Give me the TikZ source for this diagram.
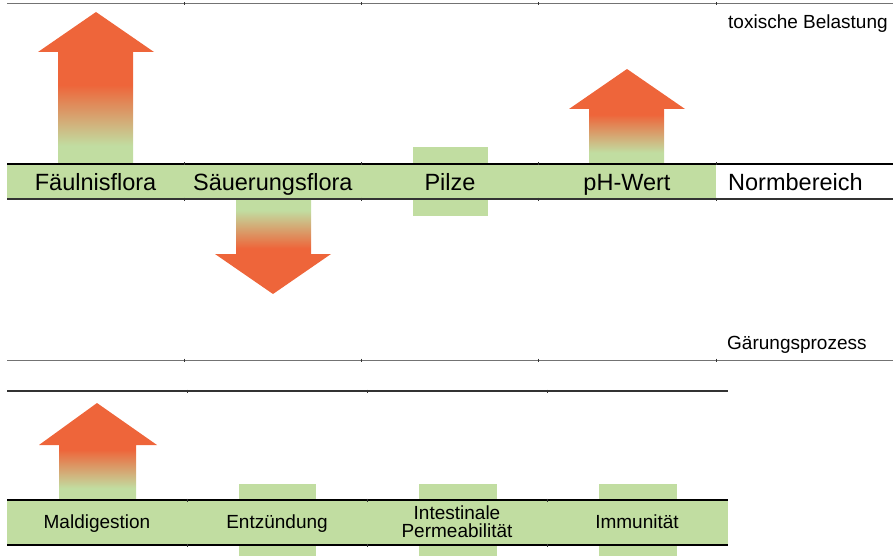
\documentclass[tikz,border=0pt]{standalone}
\usepackage{fontspec}
\setmainfont{Liberation Sans}
\definecolor{normgreen}{RGB}{193,221,161}
\definecolor{alarmorange}{RGB}{238,101,58}
% the path box covers 25bp..75bp of the shading
\pgfdeclareverticalshading{risingshade}{100bp}{color(0bp)=(normgreen); color(31bp)=(normgreen); color(51bp)=(alarmorange); color(100bp)=(alarmorange)}
\begin{document}
\begin{tikzpicture}[x=1pt,y=-1pt,
  thinrule/.style={draw=black!55,line width=1pt},
  darkrule/.style={draw=black!80,line width=1.3pt},
  boldrule/.style={draw=black,line width=1.7pt},
  tick/.style={draw=black!80,line width=0.7pt},
  bigtag/.style={font=\fontsize{23.5}{24}\selectfont,inner sep=0pt,anchor=base},
  smalltag/.style={font=\fontsize{19}{17.5}\selectfont,inner sep=0pt,anchor=base},
  sidetag/.style={font=\fontsize{19}{19}\selectfont,inner sep=0pt,anchor=base west}]
  \useasboundingbox (0,0) rectangle (893,556);

  % green boxes behind the bands
  \fill[normgreen] (413,147) rectangle (488,216);
  \fill[normgreen] (239,484) rectangle (316,556);
  \fill[normgreen] (419,484) rectangle (497,556);
  \fill[normgreen] (599,484) rectangle (677,556);
  \fill[normgreen] (7,164) rectangle (716,199);
  \fill[normgreen] (7,500) rectangle (728,545);

  % arrows
  \shade[shading=risingshade] (58,164) -- (58,52) -- (38,52) -- (96,12) -- (154,52) -- (133,52) -- (133,164) -- cycle;
  \shade[shading=risingshade] (589,164) -- (589,109) -- (569,109) -- (627,69) -- (685,109) -- (664,109) -- (664,164) -- cycle;
  \shade[shading=risingshade,shading angle=180] (236,199) -- (236,254) -- (215,254) -- (273,294) -- (331,254) -- (311,254) -- (311,199) -- cycle;
  \shade[shading=risingshade] (59,500) -- (59,445) -- (39,445) -- (97,403) -- (157,445) -- (136,445) -- (136,500) -- cycle;

  % rules
  \draw[thinrule] (7,4) -- (893,4);
  \draw[boldrule] (7,164) -- (893,164);
  \draw[darkrule] (7,199) -- (893,199);
  \draw[thinrule] (7,360) -- (893,360);
  \draw[darkrule] (7,391) -- (728,391);
  \draw[boldrule] (7,500) -- (728,500);
  \draw[boldrule] (7,545) -- (728,545);
  \foreach \x in {184,361,538,716} {
    \foreach \y in {4,164,199,360} \draw[tick] (\x,\y-1.5) -- (\x,\y+1.5);
  }
  \foreach \x in {187,367,547} {
    \foreach \y in {391,500,545} \draw[tick] (\x,\y-1.5) -- (\x,\y+1.5);
  }

  % labels
  \node[bigtag] (faeulnis) at (95.6,190) {Fäulnisflora};
  \node[bigtag] (saeuerung) at (272.8,190) {Säuerungsflora};
  \node[bigtag] (pilze) at (450,190) {Pilze};
  \node[bigtag] (phwert) at (627,190) {pH-Wert};
  \node[bigtag,anchor=base west] (norm) at (728,190) {Normbereich};
  \node[sidetag] (toxisch) at (728,29) {toxische Belastung};
  \node[sidetag] (gaerung) at (727,349) {Gärungsprozess};
  \node[smalltag] (maldig) at (97,528) {Maldigestion};
  \node[smalltag] (entz) at (277,528) {Entzündung};
  \node[smalltag,align=center,anchor=center] (permeab) at (457,521.5) {Intestinale\\Permeabilität};
  \node[smalltag] (immun) at (637,528) {Immunität};
\end{tikzpicture}
\end{document}
